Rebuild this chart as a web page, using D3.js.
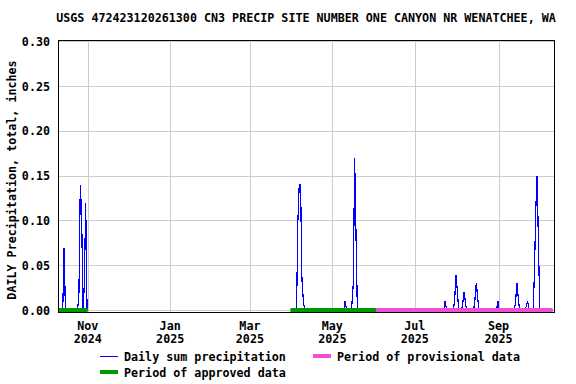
<!DOCTYPE html>
<html>
<head>
<meta charset="utf-8">
<script src="https://cdn.jsdelivr.net/npm/d3@7"></script>
<style>
  body { margin: 0; background: #fff; }
  text { font-family: "DejaVu Sans Mono", monospace; font-weight: bold; font-size: 11.7px; fill: #000; }
</style>
</head>
<body>
<div id="chart"></div>
<script>
// daily sum precipitation, inches (null = no record)
var days = [
  '2024-10-10', '2024-10-13', '2024-10-14', '2024-10-15', '2024-10-24', '2024-10-25', '2024-10-26',
  '2024-10-27', '2024-10-28', '2024-10-29', '2024-10-30', '2024-10-31', '2024-11-01',
  '2025-03-31', '2025-04-04', '2025-04-05', '2025-04-06', '2025-04-07', '2025-04-08', '2025-04-09',
  '2025-04-10', '2025-05-09', '2025-05-10', '2025-05-11', '2025-05-14', '2025-05-15', '2025-05-16',
  '2025-05-17', '2025-05-18', '2025-05-19', '2025-07-22', '2025-07-23', '2025-07-24', '2025-07-29',
  '2025-07-30', '2025-07-31', '2025-08-01', '2025-08-02', '2025-08-04', '2025-08-05', '2025-08-06',
  '2025-08-07', '2025-08-08', '2025-08-13', '2025-08-14', '2025-08-15', '2025-08-16', '2025-08-17',
  '2025-08-30', '2025-08-31', '2025-09-01', '2025-09-12', '2025-09-13', '2025-09-14', '2025-09-15',
  '2025-09-16', '2025-09-20', '2025-09-21', '2025-09-22', '2025-09-23', '2025-09-26', '2025-09-27',
  '2025-09-28', '2025-09-29', '2025-09-30', '2025-10-01', '2025-10-11'
];
var precip = [
  0, 0, 0.07, 0, 0, 0.02, 0.14,
  0.105, 0, 0.03, 0.12, 0, null,
  0, 0, 0.1, 0.14, 0.14, 0.035, 0.012,
  0, 0, 0.011, 0, 0, 0.008, 0.03,
  0.17, 0.085, 0, 0, 0.011, 0, 0,
  0.012, 0.04, 0.021, 0, 0, 0.008, 0.021,
  0.008, 0, 0, 0.012, 0.031, 0.015, 0,
  0, 0.011, 0, 0, 0.008, 0.031, 0.015,
  0, 0, 0.005, 0.011, 0, 0, 0.04,
  0.112, 0.15, 0.075, 0, 0
];
var approvedPeriods = [['2024-10-10', '2024-11-01'], ['2025-03-31', '2025-06-02T12:00']];
var provisionalPeriods = [['2025-06-02T12:00', '2025-10-11']];
var yTicks = [0, 0.05, 0.10, 0.15, 0.20, 0.25, 0.30];
var xDomain = ['2024-10-10', '2025-10-12'];

var title = 'USGS 472423120261300 CN3 PRECIP SITE NUMBER ONE CANYON NR WENATCHEE, WA';
var yTitle = 'DAILY Precipitation, total, inches';

var W = 576, H = 384;
var area = { l: 58, r: 554, t: 40, b: 312 };
var parse = function (s) { return new Date(s.length > 10 ? s + 'Z' : s + 'T00:00Z'); };
var noon = function (s) { return d3.utcHour.offset(parse(s), 12); };

var svg = d3.select('#chart').append('svg').attr('width', W).attr('height', H);

var x = d3.scaleUtc().domain(xDomain.map(parse)).range([area.l, area.r]);
var y = d3.scaleLinear().domain([0, 0.30]).range([310.5, 41.5]);

// grid
var grid = svg.append('g').attr('stroke', '#cccccc').attr('stroke-width', 1).attr('shape-rendering', 'crispEdges');
var monthTicks = x.ticks(d3.utcMonth.every(2));
grid.selectAll('.gx').data(monthTicks).enter().append('line')
  .attr('x1', d => Math.round(x(d)) + 0.5).attr('x2', d => Math.round(x(d)) + 0.5)
  .attr('y1', area.t).attr('y2', area.b);
grid.selectAll('.gy').data(yTicks).enter().append('line')
  .attr('x1', area.l).attr('x2', area.r)
  .attr('y1', d => y(d)).attr('y2', d => y(d));

// precipitation line
var pts = days.map((d, i) => ({ t: noon(d), v: precip[i] }));
var line = d3.line().defined(d => d.v != null).x(d => x(d.t)).y(d => y(d.v));
svg.append('path').datum(pts).attr('d', line)
  .attr('fill', 'none').attr('stroke', '#0000ff').attr('stroke-width', 1.2).attr('shape-rendering', 'crispEdges');

// approval periods
function drawPeriods(list, color) {
  svg.append('g').selectAll('rect').data(list).enter().append('rect')
    .attr('x', d => x(parse(d[0]))).attr('width', d => x(parse(d[1])) - x(parse(d[0])))
    .attr('y', y(0) - 2.5).attr('height', 4).attr('fill', color);
}
drawPeriods(approvedPeriods, '#009900');
drawPeriods(provisionalPeriods, '#ee4fd6');

// frame
svg.append('rect').attr('x', area.l + 0.5).attr('y', area.t + 0.5)
  .attr('width', area.r - area.l).attr('height', area.b - area.t)
  .attr('fill', 'none').attr('stroke', '#000').attr('stroke-width', 1);

// y axis labels
svg.append('g').selectAll('text').data(yTicks).enter().append('text')
  .attr('x', 50).attr('y', d => y(d)).attr('dy', '0.36em').attr('text-anchor', 'end')
  .text(d3.format('.2f'));

// x axis labels
var xl = svg.append('g').selectAll('g').data(monthTicks).enter().append('g')
  .attr('transform', d => 'translate(' + x(d) + ',0)');
xl.append('text').attr('y', 330).attr('text-anchor', 'middle').text(d3.utcFormat('%b'));
xl.append('text').attr('y', 343).attr('text-anchor', 'middle').text(d3.utcFormat('%Y'));

// titles
svg.append('text').attr('x', (area.l + area.r) / 2).attr('y', 22).attr('text-anchor', 'middle').text(title);
svg.append('text').attr('transform', 'translate(16,180) rotate(-90)')
  .attr('text-anchor', 'middle').text(yTitle);

// legend
var lg = svg.append('g');
lg.append('line').attr('x1', 100).attr('x2', 118).attr('y1', 356.5).attr('y2', 356.5).attr('stroke', '#0000ff');
lg.append('text').attr('x', 124).attr('y', 360.5).text('Daily sum precipitation');
lg.append('rect').attr('x', 313).attr('y', 354).attr('width', 18).attr('height', 4).attr('fill', '#ee4fd6');
lg.append('text').attr('x', 337).attr('y', 360.5).text('Period of provisional data');
lg.append('rect').attr('x', 100).attr('y', 370).attr('width', 18).attr('height', 4).attr('fill', '#009900');
lg.append('text').attr('x', 124).attr('y', 376.5).text('Period of approved data');
</script>
</body>
</html>
